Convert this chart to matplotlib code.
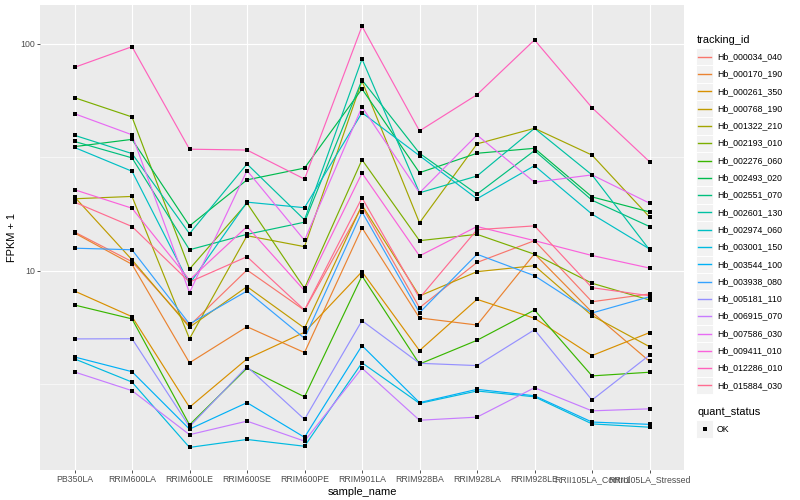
import matplotlib
matplotlib.use("Agg")
import matplotlib.pyplot as plt
from matplotlib.patches import Rectangle
from matplotlib.lines import Line2D
from matplotlib.ticker import FixedLocator, NullFormatter

plt.rcParams['font.family'] = ['Liberation Sans', 'DejaVu Sans']

samples = ["PB350LA", "RRIM600LA", "RRIM600LE", "RRIM600SE", "RRIM600PE",
           "RRIM901LA", "RRIM928BA", "RRIM928LA", "RRIM928LE",
           "RRII105LA_Control", "RRII105LA_Stressed"]

tracking_ids = ["Hb_000034_040", "Hb_000170_190", "Hb_000261_350", "Hb_000768_190",
                "Hb_001322_210", "Hb_002193_010", "Hb_002276_060", "Hb_002493_020",
                "Hb_002551_070", "Hb_002601_130", "Hb_002974_060", "Hb_003001_150",
                "Hb_003544_100", "Hb_003938_080", "Hb_005181_110", "Hb_006915_070",
                "Hb_007586_030", "Hb_009411_010", "Hb_012286_010", "Hb_015884_030"]

colors = ["#F8766D", "#EA8331", "#D89000", "#C09B00", "#A3A500", "#7CAE00",
          "#39B600", "#00BB4E", "#00BF7D", "#00C1A3", "#00BFC4", "#00BAE0",
          "#00B0F6", "#35A2FF", "#9590FF", "#C77CFF", "#E76BF3", "#FA62DB",
          "#FF62BC", "#FF6C91"]

# FPKM + 1 per sample (order of `samples`)
Hb_000034_040 = [14.85, 10.99, 5.74, 10.1, 6.71, 19.2, 6.89, 10.9, 13.6, 7.32, 7.92]
Hb_000170_190 = [14.7, 10.7, 3.94, 5.68, 4.37, 15.5, 6.21, 5.78, 11.9, 6.58, 4.0]
Hb_000261_350 = [8.16, 6.29, 2.51, 4.10, 5.37, 9.93, 4.46, 7.50, 6.19, 4.24, 5.35]
Hb_000768_190 = [21.2, 11.2, 5.65, 8.53, 5.60, 19.5, 7.76, 9.93, 10.55, 6.36, 4.64]
Hb_001322_210 = [20.8, 21.3, 5.03, 14.3, 12.8, 68.7, 16.3, 36.3, 42.5, 32.4, 17.3]
Hb_002193_010 = [58.0, 47.7, 10.2, 19.9, 8.39, 30.9, 13.6, 14.5, 11.85, 8.83, 7.45]
Hb_002276_060 = [7.08, 6.15, 2.10, 3.73, 2.79, 9.51, 3.89, 4.95, 6.73, 3.45, 3.58]
Hb_002493_020 = [35.3, 38.0, 15.8, 25.2, 28.4, 63.4, 27.1, 33.0, 34.7, 21.2, 18.2]
Hb_002551_070 = [37.2, 31.5, 12.4, 14.5, 16.4, 69.4, 33.0, 21.8, 33.9, 20.5, 15.7]
Hb_002601_130 = [39.6, 32.9, 14.6, 29.6, 16.8, 85.9, 22.1, 26.2, 42.5, 26.5, 12.4]
Hb_002974_060 = [35.0, 27.5, 8.77, 20.1, 19.0, 49.8, 32.2, 20.8, 29.1, 17.8, 12.5]
Hb_003001_150 = [4.10, 3.24, 1.67, 1.81, 1.69, 3.94, 2.61, 2.96, 2.79, 2.12, 2.05]
Hb_003544_100 = [4.18, 3.60, 2.01, 2.63, 1.85, 4.69, 2.63, 3.01, 2.82, 2.16, 2.11]
Hb_003938_080 = [12.6, 12.4, 5.84, 8.16, 5.05, 18.2, 6.55, 11.85, 9.53, 6.53, 7.70]
Hb_005181_110 = [5.02, 5.03, 2.06, 3.79, 2.22, 6.04, 3.92, 3.83, 5.51, 2.70, 4.26]
Hb_006915_070 = [3.59, 2.97, 1.90, 2.18, 1.78, 3.73, 2.20, 2.27, 3.06, 2.42, 2.47]
Hb_007586_030 = [49.3, 39.8, 8.03, 27.7, 13.65, 52.8, 22.1, 39.7, 24.6, 26.5, 19.9]
Hb_009411_010 = [22.8, 18.9, 9.13, 15.7, 8.19, 27.0, 11.65, 15.7, 13.6, 11.7, 10.3]
Hb_012286_010 = [78.9, 97.3, 34.4, 34.1, 25.4, 119.7, 41.4, 59.8, 104.2, 52.4, 30.3]
Hb_015884_030 = [20.1, 15.7, 8.94, 11.56, 6.73, 21.0, 7.60, 15.2, 15.8, 8.44, 7.78]

series = [Hb_000034_040, Hb_000170_190, Hb_000261_350, Hb_000768_190,
          Hb_001322_210, Hb_002193_010, Hb_002276_060, Hb_002493_020,
          Hb_002551_070, Hb_002601_130, Hb_002974_060, Hb_003001_150,
          Hb_003544_100, Hb_003938_080, Hb_005181_110, Hb_006915_070,
          Hb_007586_030, Hb_009411_010, Hb_012286_010, Hb_015884_030]

W, H = 800, 500
fig = plt.figure(figsize=(W / 100, H / 100), dpi=100)
fig.patch.set_facecolor("white")

L, R, T, B = 40, 684, 5, 470
ax = fig.add_axes([L / W, 1 - B / H, (R - L) / W, (B - T) / H])
ax.set_facecolor("#EBEBEB")
for s in ax.spines.values():
    s.set_visible(False)

xs = list(range(len(samples)))
for vals, c in zip(series, colors):
    ax.plot(xs, vals, color=c, lw=0.85, zorder=3, solid_capstyle="butt")
for vals in series:
    ax.plot(xs, vals, linestyle="none", marker="s", ms=2.6, mfc="black",
            mec="black", mew=0, zorder=4)

ax.set_yscale("log")
ax.set_ylim(1.328, 148.5)
ax.set_xlim(-0.6, len(samples) - 0.4)

ax.yaxis.set_major_locator(FixedLocator([10, 100]))
ax.yaxis.set_minor_locator(FixedLocator([10 ** 0.5, 10 ** 1.5]))
ax.yaxis.set_minor_formatter(NullFormatter())
ax.set_yticklabels(["10", "100"])
ax.set_xticks(xs)
ax.set_xticklabels(samples)

ax.grid(which="major", color="white", lw=0.8, zorder=0)
ax.grid(which="minor", axis="y", color="white", lw=0.4, zorder=0)
ax.set_axisbelow(True)
ax.tick_params(axis="both", which="major", length=2.2, width=0.6, color="#333333",
               labelsize=6.3, labelcolor="#4D4D4D", pad=1.5)
ax.tick_params(axis="y", which="minor", length=0)
ax.set_xlabel("sample_name", fontsize=7.9, color="black", labelpad=2)
ax.set_ylabel("FPKM + 1", fontsize=7.9, color="black", labelpad=2)

# legend drawn in pixel coordinates
lg = fig.add_axes([0, 0, 1, 1])
lg.set_xlim(0, W)
lg.set_ylim(H, 0)
lg.axis("off")
lg.text(697, 40, "tracking_id", fontsize=7.9, va="center", ha="left")
key_w = 17.3
y0 = 56.7
for i, (name, c) in enumerate(zip(tracking_ids, colors)):
    yc = y0 + i * 17.3
    lg.add_patch(Rectangle((696, yc - key_w / 2), key_w, key_w,
                           facecolor="#F2F2F2", edgecolor="white", lw=0.7))
    lg.add_line(Line2D([698, 711], [yc, yc], color=c, lw=1.0))
    lg.text(717, yc, name, fontsize=6.3, va="center", ha="left")

lg.text(697, 412, "quant_status", fontsize=7.9, va="center", ha="left")
yc = 429
lg.add_patch(Rectangle((696, yc - key_w / 2), key_w, key_w,
                       facecolor="#F2F2F2", edgecolor="white", lw=0.7))
lg.add_line(Line2D([704.6], [yc], marker="s", ms=2.6, mfc="black", mec="black",
                   mew=0, linestyle="none"))
lg.text(717, yc, "OK", fontsize=6.3, va="center", ha="left")

fig.savefig("out.png", dpi=100)
